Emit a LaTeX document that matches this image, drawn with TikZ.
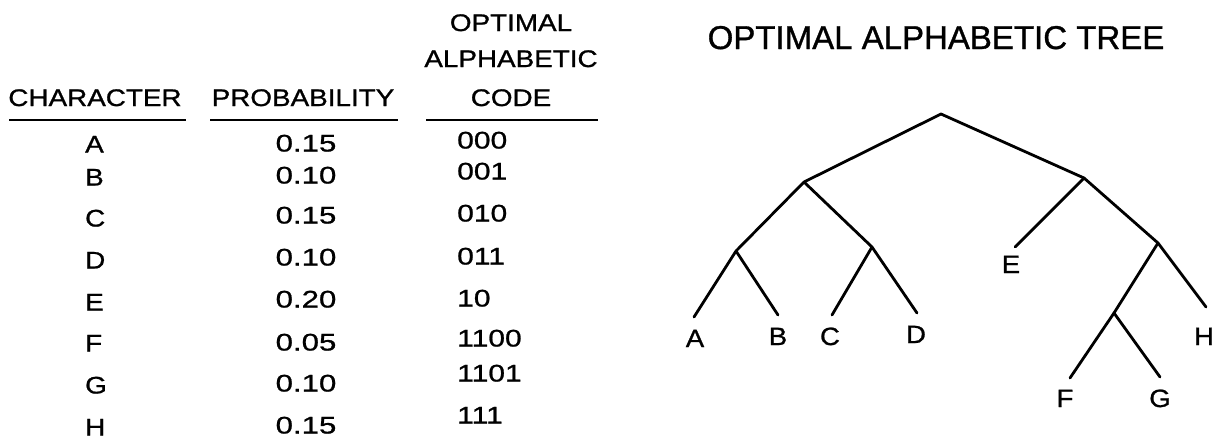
\documentclass[tikz,border=0pt]{standalone}
\usepackage{fontspec}
\setmainfont{Liberation Sans}
\newfontfamily\hdrfont[FakeStretch=1.16,FakeBold=1]{Liberation Sans}
\newfontfamily\digfont[FakeStretch=1.3,FakeBold=1]{Liberation Sans}
\newfontfamily\codefont[FakeStretch=1.25,FakeBold=1]{Liberation Sans}
\newfontfamily\ttlfont[FakeBold=1]{Liberation Sans}
\newfontfamily\leaffont[FakeStretch=1.1,FakeBold=1]{Liberation Sans}
\begin{document}
\begin{tikzpicture}[x=1pt,y=-1pt,
  hdr/.style={font=\hdrfont\fontsize{24}{26}\selectfont, inner sep=0pt, anchor=base},
  cell/.style={font=\hdrfont\fontsize{24}{26}\selectfont, inner sep=0pt, anchor=base west},
  prob/.style={font=\digfont\fontsize{24}{26}\selectfont, inner sep=0pt, anchor=base},
  codecell/.style={font=\codefont\fontsize{24}{26}\selectfont, inner sep=0pt, anchor=base west},
  leaf/.style={font=\leaffont\fontsize{25}{27}\selectfont, inner sep=0pt, anchor=base},
  ttl/.style={font=\ttlfont\fontsize{33}{35}\selectfont, inner sep=0pt, anchor=base},
  rule/.style={line width=2.2pt},
  edge/.style={line width=2.8pt, line cap=round, line join=round}]
\useasboundingbox (0,0) rectangle (1215,440);
% table header
\node[hdr] (hopt) at (511,31) {OPTIMAL};
\node[hdr] (halp) at (511,67) {ALPHABETIC};
\node[hdr] (hchar) at (95,106) {CHARACTER};
\node[hdr] (hprob) at (303,106) {PROBABILITY};
\node[hdr] (hcode) at (511,106) {CODE};
\draw[rule] (9,120) -- (186,120);
\draw[rule] (210,120) -- (398,120);
\draw[rule] (426,120) -- (598,120);
% rows
\foreach \l/\p/\c/\yl/\yp/\yc in {A/0.15/000/144/143/140, B/0.10/001/177/175/171, C/0.15/010/218/215/213, D/0.10/011/260/257/256, E/0.20/10/302/299/298, F/0.05/1100/343/342/338, G/0.10/1101/385/383/373, H/0.15/111/427/425/415}{
  \node[cell] (r\l) at (85,\yl+8.5) {\l};
  \node[prob] (p\l) at (306,\yp+8.5) {\p};
  \node[codecell] (c\l) at (457,\yc+8.5) {\c};
}
% title
\node[ttl] (title) at (936,49) {OPTIMAL ALPHABETIC TREE};
% tree
\coordinate (root) at (941,114);
\coordinate (n0) at (804,182);
\coordinate (n1) at (1084,178);
\coordinate (n00) at (736,251);
\coordinate (n01) at (872,247);
\coordinate (n11) at (1158,243);
\coordinate (n110) at (1114,313);
\coordinate (ea) at (694,317);
\coordinate (eb) at (778,315);
\coordinate (ec) at (832,315);
\coordinate (ed) at (917,313);
\coordinate (ee) at (1015,247);
\coordinate (eh) at (1206,307);
\coordinate (ef) at (1070,378);
\coordinate (eg) at (1160,377);
\draw[edge] (n0) -- (root) -- (n1);
\draw[edge] (n00) -- (n0) -- (n01);
\draw[edge] (ea) -- (n00) -- (eb);
\draw[edge] (ec) -- (n01) -- (ed);
\draw[edge] (ee) -- (n1) -- (n11) -- (eh);
\draw[edge] (n11) -- (n110);
\draw[edge] (ef) -- (n110) -- (eg);
\node[leaf] (la) at (695,347) {A};
\node[leaf] (lb) at (778,345) {B};
\node[leaf] (lc) at (830,345) {C};
\node[leaf] (ld) at (916,343) {D};
\node[leaf] (le) at (1011,273) {E};
\node[leaf] (lh) at (1204,345) {H};
\node[leaf] (lf) at (1065,407) {F};
\node[leaf] (lg) at (1160,407) {G};
\end{tikzpicture}
\end{document}
